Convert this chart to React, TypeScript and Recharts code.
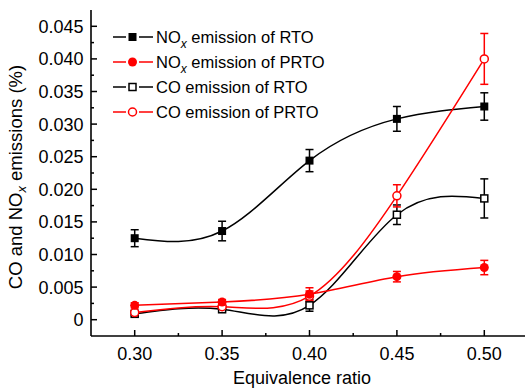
import React from 'react';
import { LineChart, Line, XAxis, YAxis, ErrorBar, Legend } from 'recharts';

// equivalence ratio
const ratio = [0.3, 0.35, 0.4, 0.45, 0.5];

// emissions (%)
const noxRto = [0.0125, 0.0136, 0.0244, 0.0308, 0.0327];
const noxRtoErr = [0.0013, 0.0015, 0.0017, 0.0019, 0.0021];
const noxPrto = [0.0022, 0.0027, 0.0039, 0.0066, 0.008];
const noxPrtoErr = [0.0004, 0.0004, 0.001, 0.0008, 0.0011];
const coRto = [0.0009, 0.0016, 0.0022, 0.0161, 0.0186];
const coRtoErr = [0.0003, 0.0003, 0.0009, 0.0015, 0.003];
const coPrto = [0.0011, 0.002, 0.0036, 0.019, 0.04];
const coPrtoErr = [0.0003, 0.0003, 0.0008, 0.0017, 0.0039];

const xMajor = [0.3, 0.35, 0.4, 0.45, 0.5];
const xMinor = [0.325, 0.375, 0.425, 0.475];
const yMajor = [0, 0.005, 0.01, 0.015, 0.02, 0.025, 0.03, 0.035, 0.04, 0.045];
const yMinor = [0.0025, 0.0075, 0.0125, 0.0175, 0.0225, 0.0275, 0.0325, 0.0375, 0.0425];

const data = ratio.map((x, i) => ({
  x,
  noxRto: noxRto[i],
  noxRtoErr: noxRtoErr[i],
  noxPrto: noxPrto[i],
  noxPrtoErr: noxPrtoErr[i],
  coRto: coRto[i],
  coRtoErr: coRtoErr[i],
  coPrto: coPrto[i],
  coPrtoErr: coPrtoErr[i],
}));

const FONT = '"Liberation Sans", Arial, sans-serif';
const RED = '#ff0000';

type MarkerKind = 'fillSquare' | 'fillCircle' | 'openSquare' | 'openCircle';

const Marker = ({ kind, cx, cy, color }: { kind: MarkerKind; cx: number; cy: number; color: string }) => {
  if (kind === 'fillSquare') return <rect x={cx - 4} y={cy - 4} width={8} height={8} fill={color} />;
  if (kind === 'fillCircle') return <circle cx={cx} cy={cy} r={4.5} fill={color} />;
  if (kind === 'openSquare')
    return <rect x={cx - 3.5} y={cy - 3.5} width={7} height={7} fill="#fff" stroke={color} strokeWidth={1.5} />;
  return <circle cx={cx} cy={cy} r={4} fill="#fff" stroke={color} strokeWidth={1.5} />;
};

const dotFor = (kind: MarkerKind, color: string) => (p: any) => (
  <Marker key={`${kind}-${p.index}`} kind={kind} cx={p.cx} cy={p.cy} color={color} />
);

const XTick = (props: any) => {
  const { x, y, payload } = props;
  const major = xMajor.includes(payload.value);
  return (
    <g>
      <line x1={x} x2={x} y1={y} y2={y - (major ? 6 : 3)} stroke="#000" strokeWidth={1.5} />
      {major && (
        <text x={x} y={y + 23.5} textAnchor="middle" fontSize={18} fontFamily={FONT} fill="#000">
          {payload.value.toFixed(2)}
        </text>
      )}
    </g>
  );
};

const TopTick = (props: any) => {
  const { x, y, payload } = props;
  const major = xMajor.includes(payload.value);
  return <line x1={x} x2={x} y1={y} y2={y + (major ? 6 : 3)} stroke="#000" strokeWidth={1.5} />;
};

const YTick = (props: any) => {
  const { x, y, payload } = props;
  const major = yMajor.includes(payload.value);
  return (
    <g>
      <line x1={x} x2={x + (major ? 6 : 3)} y1={y} y2={y} stroke="#000" strokeWidth={1.5} />
      {major && (
        <text x={x - 7.5} y={y + 6.4} textAnchor="end" fontSize={18} fontFamily={FONT} fill="#000">
          {payload.value === 0 ? '0' : payload.value.toFixed(3)}
        </text>
      )}
    </g>
  );
};

const YLabel = (props: any) => {
  const { viewBox } = props;
  const cx = 22;
  const cy = viewBox.y + viewBox.height / 2 + 4;
  return (
    <text
      x={cx}
      y={cy}
      transform={`rotate(-90 ${cx} ${cy})`}
      textAnchor="middle"
      fontSize={18.5}
      fontFamily={FONT}
      fill="#000"
    >
      CO and NO
      <tspan fontStyle="italic" fontSize={13} dy={4}>
        x
      </tspan>
      <tspan dy={-4}> emissions (%)</tspan>
    </text>
  );
};

const XLabel = () => (
  <text x={302} y={384} textAnchor="middle" fontSize={18} fontFamily={FONT} fill="#000">
    Equivalence ratio
  </text>
);

const legendItems: { name: string; color: string; kind: MarkerKind }[] = [
  { name: 'emission of RTO', color: '#000', kind: 'fillSquare' },
  { name: 'emission of PRTO', color: RED, kind: 'fillCircle' },
  { name: 'CO emission of RTO', color: '#000', kind: 'openSquare' },
  { name: 'CO emission of PRTO', color: RED, kind: 'openCircle' },
];

const LegendBox = () => (
  <div style={{ fontFamily: FONT, fontSize: 16.5, color: '#000' }}>
    {legendItems.map((it, i) => (
      <div key={i} style={{ display: 'flex', alignItems: 'center', height: 25 }}>
        <svg width={40} height={12} style={{ marginRight: 3 }}>
          <line x1={0} x2={13} y1={6} y2={6} stroke={it.color} strokeWidth={1.5} />
          <line x1={26} x2={40} y1={6} y2={6} stroke={it.color} strokeWidth={1.5} />
          <Marker kind={it.kind} cx={19.5} cy={6} color={it.color} />
        </svg>
        <span style={{ whiteSpace: 'nowrap' }}>
          {i < 2 ? (
            <>
              NO
              <span style={{ fontStyle: 'italic', fontSize: 12, position: 'relative', top: 5 }}>x</span>{' '}
            </>
          ) : null}
          {it.name}
        </span>
      </div>
    ))}
  </div>
);

export default function App() {
  return (
    <div style={{ position: 'fixed', left: 0, top: 0, width: 525, height: 389, overflow: 'hidden', background: '#fff' }}>
      <LineChart width={540} height={389} data={data} margin={{ top: 10, right: 12, left: 0, bottom: 0 }}>
        <XAxis
          xAxisId="main"
          type="number"
          dataKey="x"
          domain={[0.275, 0.525]}
          allowDataOverflow
          ticks={[...xMajor, ...xMinor]}
          interval={0}
          tickSize={0}
          tickMargin={0}
          tickLine={false}
          tick={<XTick />}
          height={53}
          axisLine={{ stroke: '#000', strokeWidth: 1.6 }}
          label={<XLabel />}
        />
        <XAxis
          xAxisId="top"
          orientation="top"
          type="number"
          dataKey="x"
          domain={[0.275, 0.525]}
          allowDataOverflow
          ticks={[...xMajor, ...xMinor]}
          interval={0}
          tickSize={0}
          tickMargin={0}
          tickLine={false}
          tick={<TopTick />}
          height={0}
          axisLine={{ stroke: '#000', strokeWidth: 1.6 }}
        />
        <YAxis
          yAxisId="main"
          type="number"
          domain={[-0.0025, 0.0475]}
          allowDataOverflow
          ticks={[...yMajor, ...yMinor]}
          interval={0}
          tickSize={0}
          tickMargin={0}
          tickLine={false}
          tick={<YTick />}
          width={91}
          axisLine={{ stroke: '#000', strokeWidth: 1.6 }}
          label={<YLabel />}
        />
        <Legend
          layout="vertical"
          align="center"
          verticalAlign="middle"
          content={<LegendBox />}
          wrapperStyle={{ position: 'absolute', left: 113, top: 24.5, width: 'auto' }}
        />
        <Line
          xAxisId="main"
          yAxisId="main"
          type="natural"
          dataKey="noxRto"
          stroke="#000"
          strokeWidth={1.5}
          dot={dotFor('fillSquare', '#000')}
          activeDot={false}
          isAnimationActive={false}
        >
          <ErrorBar dataKey="noxRtoErr" direction="y" width={4} stroke="#000" strokeWidth={1.5} />
        </Line>
        <Line
          xAxisId="main"
          yAxisId="main"
          type="natural"
          dataKey="coRto"
          stroke="#000"
          strokeWidth={1.5}
          dot={dotFor('openSquare', '#000')}
          activeDot={false}
          isAnimationActive={false}
        >
          <ErrorBar dataKey="coRtoErr" direction="y" width={4} stroke="#000" strokeWidth={1.5} />
        </Line>
        <Line
          xAxisId="main"
          yAxisId="main"
          type="natural"
          dataKey="coPrto"
          stroke={RED}
          strokeWidth={1.5}
          dot={dotFor('openCircle', RED)}
          activeDot={false}
          isAnimationActive={false}
        >
          <ErrorBar dataKey="coPrtoErr" direction="y" width={4} stroke={RED} strokeWidth={1.5} />
        </Line>
        <Line
          xAxisId="main"
          yAxisId="main"
          type="natural"
          dataKey="noxPrto"
          stroke={RED}
          strokeWidth={1.5}
          dot={dotFor('fillCircle', RED)}
          activeDot={false}
          isAnimationActive={false}
        >
          <ErrorBar dataKey="noxPrtoErr" direction="y" width={4} stroke={RED} strokeWidth={1.5} />
        </Line>
      </LineChart>
    </div>
  );
}
